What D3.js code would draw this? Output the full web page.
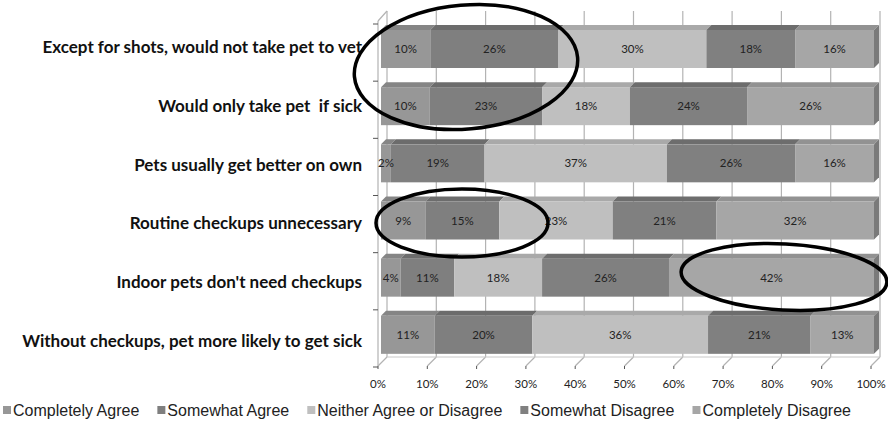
<!DOCTYPE html>
<html>
<head>
<meta charset="utf-8">
<script src="https://cdn.jsdelivr.net/npm/d3@7"></script>
<style>
  body { margin: 0; background: #fff; }
  svg { display: block; }
</style>
</head>
<body>
<div id="chart"></div>
<script>
// Survey statements, top to bottom
let categories = [
  "Except for shots, would not take pet to vet",
  "Would only take pet  if sick",
  "Pets usually get better on own",
  "Routine checkups unnecessary",
  "Indoor pets don't need checkups",
  "Without checkups, pet more likely to get sick"
];

let seriesNames = ["Completely Agree", "Somewhat Agree", "Neither Agree or Disagree",
  "Somewhat Disagree", "Completely Disagree"];

// percent answering, one entry per statement
let completelyAgree    = [10, 10,  2,  9,  4, 11];
let somewhatAgree      = [26, 23, 19, 15, 11, 20];
let neitherAgree       = [30, 18, 37, 23, 18, 36];
let somewhatDisagree   = [18, 24, 26, 21, 26, 21];
let completelyDisagree = [16, 26, 16, 32, 42, 13];

let xTicks = [0, 0.1, 0.2, 0.3, 0.4, 0.5, 0.6, 0.7, 0.8, 0.9, 1];

// front face colours and the darker top faces
let fills = ["#979797", "#7f7f7f", "#bfbfbf", "#808080", "#a6a6a6"];
let tops  = ["#858585", "#6c6c6c", "#a9a9a9", "#6d6d6d", "#929292"];

let width = 888, height = 426;
let depth = 9;      // wall / floor depth offset
let barDepth = 5;   // depth of the bars

let svg = d3.select("#chart").append("svg")
  .attr("width", width)
  .attr("height", height);

// floor front scale
let xScale = d3.scaleLinear().domain([0, 1]).range([378, 871]);
let yScale = d3.scaleBand().domain(categories).range([24, 367]);
// category labels sit on the front plane, spaced a bit wider
let labelScale = d3.scaleBand().domain(categories).range([18, 370]);

let floorY = 366;
let wallTop = 11;

// back wall gridlines
let grid = svg.append("g").attr("class", "grid");
grid.selectAll("line.v")
  .data(xTicks)
  .enter()
  .append("line")
  .attr("x1", d => xScale(d) + depth)
  .attr("x2", d => xScale(d) + depth)
  .attr("y1", wallTop)
  .attr("y2", floorY - depth)
  .attr("stroke", "#b3b3b3")
  .attr("stroke-width", 1.2);

// floor diagonals
grid.selectAll("line.f")
  .data(xTicks)
  .enter()
  .append("line")
  .attr("x1", d => xScale(d))
  .attr("x2", d => xScale(d) + depth)
  .attr("y1", floorY)
  .attr("y2", floorY - depth)
  .attr("stroke", "#b3b3b3")
  .attr("stroke-width", 1.2);

// floor back edge and left wall edges
grid.append("line")
  .attr("x1", xScale(0) + depth).attr("x2", xScale(1) + depth)
  .attr("y1", floorY - depth).attr("y2", floorY - depth)
  .attr("stroke", "#c8c8c8");
grid.append("line")
  .attr("x1", xScale(0)).attr("x2", xScale(0))
  .attr("y1", wallTop + depth + 1).attr("y2", floorY)
  .attr("stroke", "#b3b3b3")
  .attr("stroke-width", 1.2);
grid.append("line")
  .attr("x1", xScale(0)).attr("x2", xScale(0) + depth)
  .attr("y1", wallTop + depth + 1).attr("y2", wallTop)
  .attr("stroke", "#b3b3b3")
  .attr("stroke-width", 1.2);

// category ticks
let catTicks = categories.map(c => yScale(c)).concat([yScale.range()[1]]);
svg.append("g")
  .selectAll("line")
  .data(catTicks)
  .enter()
  .append("line")
  .attr("x1", xScale(0) - 5)
  .attr("x2", xScale(0))
  .attr("y1", d => d)
  .attr("y2", d => d)
  .attr("stroke", "#555");

// value ticks and labels
let xAxisG = svg.append("g");
xAxisG.selectAll("line")
  .data(xTicks)
  .enter()
  .append("line")
  .attr("x1", d => xScale(d))
  .attr("x2", d => xScale(d))
  .attr("y1", floorY)
  .attr("y2", floorY + 3)
  .attr("stroke", "#555");
xAxisG.selectAll("text")
  .data(xTicks)
  .enter()
  .append("text")
  .attr("x", d => xScale(d))
  .attr("y", 388)
  .attr("text-anchor", "middle")
  .style("font-family", "Lato, 'Liberation Sans', sans-serif")
  .style("font-size", "11.5px")
  .attr("fill", "#222")
  .text(d3.format(".0%"));

// stack the five series for each statement
let seriesValues = [completelyAgree, somewhatAgree, neitherAgree, somewhatDisagree, completelyDisagree];
let rows = categories.map((c, i) => {
  let vals = seriesValues.map(s => s[i]);
  let total = d3.sum(vals);
  let acc = 0;
  return vals.map((v, k) => {
    let seg = { cat: c, k: k, v: v, x0: acc / total, x1: (acc + v) / total };
    acc += v;
    return seg;
  });
});

let barH = 38;
let bx = d => xScale(d) + 3;  // bars sit a little behind the floor front

let bars = svg.append("g").attr("class", "bars");
rows.forEach(row => {
  let g = bars.append("g");
  let yf = yScale(row[0].cat) + barDepth + 1;

  // top faces
  g.selectAll("path.top")
    .data(row)
    .enter()
    .append("path")
    .attr("d", d => "M" + bx(d.x0) + "," + yf +
      "L" + bx(d.x1) + "," + yf +
      "L" + (bx(d.x1) + barDepth) + "," + (yf - barDepth) +
      "L" + (bx(d.x0) + barDepth) + "," + (yf - barDepth) + "Z")
    .attr("fill", d => tops[d.k]);

  // front faces
  g.selectAll("rect")
    .data(row)
    .enter()
    .append("rect")
    .attr("x", d => bx(d.x0))
    .attr("y", yf)
    .attr("width", d => bx(d.x1) - bx(d.x0))
    .attr("height", barH)
    .attr("fill", d => fills[d.k]);

  // right side of the last segment
  let last = row[row.length - 1];
  g.append("path")
    .attr("d", "M" + bx(last.x1) + "," + yf +
      "L" + (bx(last.x1) + barDepth) + "," + (yf - barDepth) +
      "L" + (bx(last.x1) + barDepth) + "," + (yf - barDepth + barH) +
      "L" + bx(last.x1) + "," + (yf + barH) + "Z")
    .attr("fill", "#7a7a7a");

  // value labels
  g.selectAll("text")
    .data(row)
    .enter()
    .append("text")
    .attr("x", d => (bx(d.x0) + bx(d.x1)) / 2)
    .attr("y", yf + barH / 2 + 4)
    .attr("text-anchor", "middle")
    .style("font-family", "Lato, 'Liberation Sans', sans-serif")
    .style("font-size", "11.5px")
    .attr("fill", "#222")
    .text(d => d.v + "%");
});

// statement labels
svg.append("g")
  .selectAll("text")
  .data(categories)
  .enter()
  .append("text")
  .attr("x", 362)
  .attr("y", d => labelScale(d) + labelScale.bandwidth() / 2 + 6)
  .attr("text-anchor", "end")
  .style("white-space", "pre")
  .style("font-family", "Lato, 'Liberation Sans', sans-serif")
  .style("font-weight", "bold")
  .style("font-size", "17px")
  .attr("fill", "#111")
  .text(d => d);

// legend, packed left to right across the bottom
let legend = svg.append("g")
  .selectAll("g")
  .data(seriesNames)
  .enter()
  .append("g");
legend.append("rect")
  .attr("x", 0)
  .attr("y", -10)
  .attr("width", 8)
  .attr("height", 8)
  .attr("fill", (d, i) => fills[i]);
legend.append("text")
  .attr("x", 10)
  .attr("y", 0)
  .style("font-family", "'Liberation Sans', Arial, sans-serif")
  .style("font-size", "16px")
  .attr("fill", "#222")
  .text(d => d);

let widths = [];
legend.select("text").each(function() { widths.push(this.getComputedTextLength() + 10); });
let gap = (851 - 3 - d3.sum(widths)) / (widths.length - 1);
let lx = 3;
legend.attr("transform", (d, i) => {
  let t = "translate(" + lx + ",416)";
  lx += widths[i] + gap;
  return t;
});

// hand drawn ellipses
let ellipses = [
  { cx: 466, cy: 67, rx: 112, ry: 62, rot: -5 },
  { cx: 462, cy: 223, rx: 86, ry: 34, rot: 0 },
  { cx: 784, cy: 277, rx: 103, ry: 33, rot: 3 }
];
svg.append("g")
  .selectAll("ellipse")
  .data(ellipses)
  .enter()
  .append("ellipse")
  .attr("cx", 0)
  .attr("cy", 0)
  .attr("rx", d => d.rx)
  .attr("ry", d => d.ry)
  .attr("transform", d => "translate(" + d.cx + "," + d.cy + ") rotate(" + d.rot + ")")
  .attr("fill", "none")
  .attr("stroke", "#000")
  .attr("stroke-width", 3.5);
</script>
</body>
</html>
